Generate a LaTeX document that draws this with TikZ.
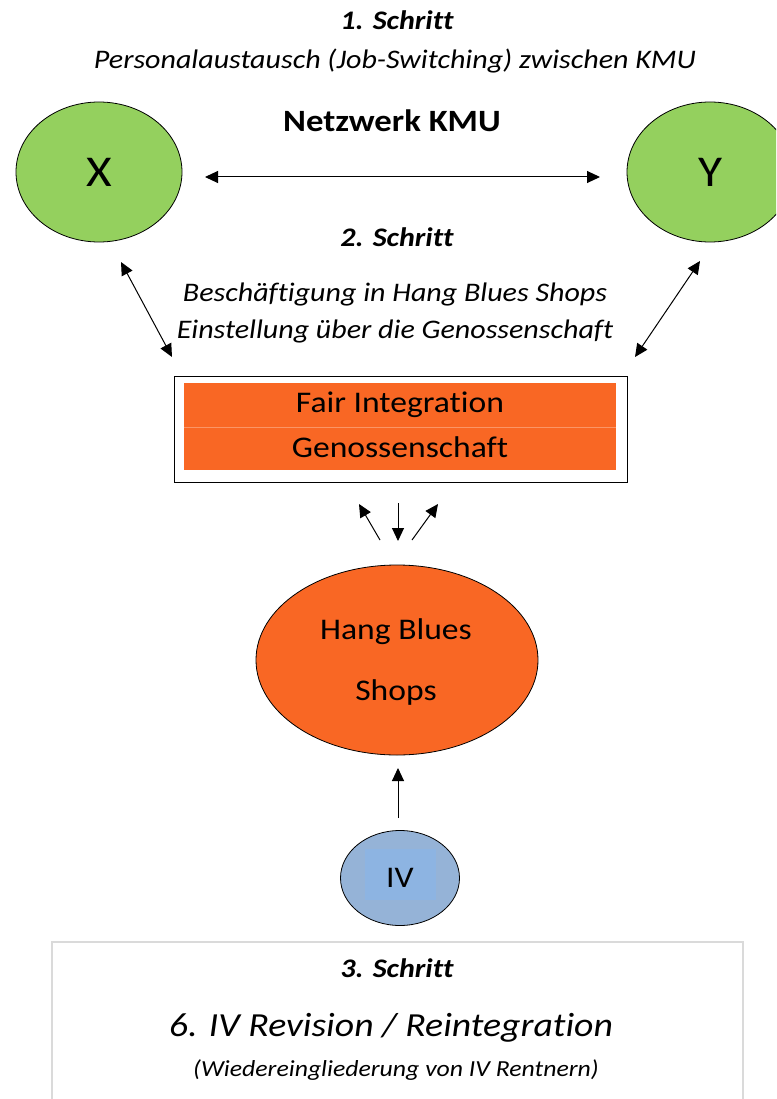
\documentclass[tikz,border=0pt]{standalone}
\usepackage{fontspec}
\setmainfont{Carlito}[FakeStretch=1.12, Ligatures=NoCommon]
\usetikzlibrary{arrows.meta,shapes.geometric}
\definecolor{kmugreen}{HTML}{94D05E}
\definecolor{fiorange}{HTML}{F96724}
\definecolor{ivblue}{HTML}{95B3D7}
\definecolor{ivinner}{HTML}{8DB4E2}
\definecolor{boxgrey}{HTML}{DADADA}
\tikzset{
  tip/.style={-{Triangle[length=13pt,width=12pt]}},
  dtip/.style={{Triangle[length=13pt,width=12pt]}-{Triangle[length=13pt,width=12pt]}},
  conn/.style={line width=1pt},
  lbl/.style={inner sep=0pt, anchor=center},
  kmu/.style={ellipse, draw, line width=0.8pt, fill=kmugreen, minimum width=166pt, minimum height=140pt, inner sep=0pt, font=\fontsize{44}{48}\selectfont},
  stepttl/.style={lbl, font=\fontsize{26.8}{30}\selectfont\bfseries\itshape},
  body/.style={lbl, font=\fontsize{26.8}{31}\selectfont\itshape},
  boxtxt/.style={lbl, font=\fontsize{30}{34}\selectfont},
}
\begin{document}
\begin{tikzpicture}[x=1pt,y=-1pt]
\useasboundingbox (0,0) rectangle (776,1099);
\begin{scope}
\clip (0,0) rectangle (776,1099);
\node[kmu] (X) at (99,172) {X};
\node[kmu] (Y) at (710,172) {Y};
\draw[boxgrey, line width=1.2pt] (52,942) rectangle (743,1120);
\end{scope}
\node[stepttl] (s1) at (397,20) {1. Schritt};
\node[body] (pa) at (395,61) {Personalaustausch (Job-Switching) zwischen KMU};
\node[lbl, font=\fontsize{31}{34}\selectfont\bfseries] (nk) at (392,121) {Netzwerk KMU};
\coordinate (hl) at (205,177);
\coordinate (hr) at (600,177);
\draw[conn, dtip] (hl) -- (hr);
\node[stepttl] (s2) at (397,237) {2. Schritt};
\node[body] (b1) at (395,294) {Beschäftigung in Hang Blues Shops};
\node[body] (b2) at (395,331) {Einstellung über die Genossenschaft};
% diagonal arrows
\coordinate (la) at (121,262);
\coordinate (lb) at (172,357);
\coordinate (ra) at (700,261);
\coordinate (rb) at (635,357);
\draw[conn, dtip] (la) -- (lb);
\draw[conn, dtip] (ra) -- (rb);
% Fair Integration box
\draw[line width=1pt, fill=white] (174,376) rectangle (627,482);
\fill[fiorange] (184,383) rectangle (616,470);
\draw[fiorange!70!white, line width=0.6pt] (184,427) -- (616,427);
\node[boxtxt] (fi) at (400,405) {Fair Integration};
\node[boxtxt] (ge) at (400,447) {Genossenschaft};
% small arrows
\coordinate (a1s) at (380,540);
\coordinate (a1e) at (359,504);
\coordinate (a2s) at (398,503);
\coordinate (a2e) at (398,541);
\coordinate (a3s) at (412,540);
\coordinate (a3e) at (438,504);
\draw[conn, tip] (a1s) -- (a1e);
\draw[conn, tip] (a2s) -- (a2e);
\draw[conn, tip] (a3s) -- (a3e);
% Hang Blues Shops
\node[ellipse, draw, line width=0.8pt, fill=fiorange, minimum width=282pt, minimum height=190pt, inner sep=0pt] (hb) at (397,660) {};
\node[boxtxt] (hb1) at (396,632) {Hang Blues};
\node[boxtxt] (hb2) at (396,692) {Shops};
% IV
\node[ellipse, draw, line width=0.8pt, fill=ivblue, minimum width=119pt, minimum height=95pt, inner sep=0pt] (iv) at (400,878) {};
\fill[ivinner] (365,849) rectangle (436,900);
\node[boxtxt] (ivt) at (400,878) {IV};
\coordinate (ua) at (398,818);
\coordinate (ub) at (398,768);
\draw[conn, tip] (ua) -- (ub);
% bottom texts
\node[stepttl] (s3) at (397,968) {3. Schritt};
\node[lbl, font=\fontsize{33.7}{38}\selectfont\itshape] (rv) at (391,1028) {6. IV Revision / Reintegration};
\node[lbl, font=\fontsize{23}{27}\selectfont\itshape] (wd) at (396,1070) {(Wiedereingliederung von IV Rentnern)};
\end{tikzpicture}
\end{document}
